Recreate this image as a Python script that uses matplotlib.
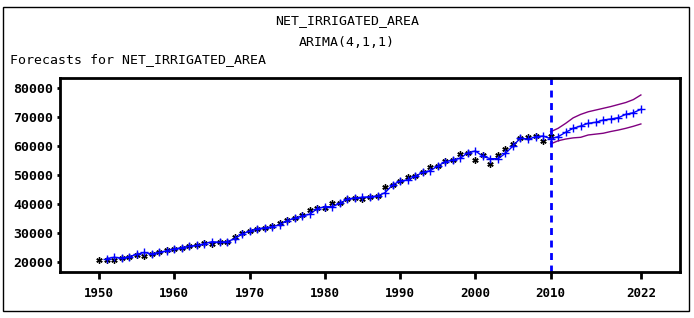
import numpy as np
import matplotlib
matplotlib.use("Agg")
from matplotlib import pyplot as plt
from matplotlib.patches import Rectangle

# actual series 1950-2010
years = np.arange(1950, 2011)
actual = [20850, 20700, 20650, 21450, 21650, 22350, 22100, 22900, 23300, 24000,
          24500, 24700, 25550, 25700, 26450, 26250, 26800, 26900, 28700, 29950,
          30800, 31450, 31750, 32450, 33400, 34500, 35100, 36200, 37950, 38450,
          38720, 40200, 40500, 41850, 42100, 41750, 42550, 42800, 45800, 46550,
          48000, 49400, 49800, 51200, 52700, 53100, 54850, 55200, 57200, 57650,
          55200, 56800, 53700, 56800, 58850, 60600, 62650, 63000, 63450, 61700,
          63450]

# one-step / forecast values 1951-2022
fyears = np.arange(1951, 2023)
forecast = [21200, 21620, 21330, 21830, 22650, 23280, 22760, 23280, 23900,
            24550, 24930, 25450, 25700, 26310, 27000, 26790, 27000, 28000, 29600,
            30690, 31480, 31750, 32200, 32800, 34240, 35100, 35860, 36500, 38400,
            39070, 39070, 40240, 41720, 42070, 42310, 42520, 42760, 43900, 46550,
            47930, 48300, 49500, 50930, 51480, 53100, 54550, 55170, 55760, 57690,
            58280, 56450, 55620, 55620, 57470, 60000, 62760, 62310, 63210, 63450,
            62520, 63210, 64720, 66100, 66900, 67830, 68170, 68970, 69310, 69760,
            70930, 71480, 72660]

# confidence limits 2010-2022
cyears = np.arange(2010, 2023)
upper = [64900, 66100, 67800, 69700, 70900, 71800, 72400, 73000, 73600, 74300,
         75000, 76000, 77600]
lower = [60700, 61800, 62400, 62800, 63000, 63800, 64100, 64400, 65000, 65500,
         66100, 66800, 67600]

xticks = [1950, 1960, 1970, 1980, 1990, 2000, 2010, 2022]
yticks = [20000, 30000, 40000, 50000, 60000, 70000, 80000]

fig = plt.figure(figsize=(6.94, 3.18), dpi=100)
fig.patches.append(Rectangle((3/694, 7/318), 686/694, 304/318, transform=fig.transFigure,
                             fill=False, edgecolor="black", linewidth=1))

mono = "DejaVu Sans Mono"
fig.text(0.5, 1 - 21/318, "NET_IRRIGATED_AREA", ha="center", va="center", family=mono, fontsize=9.5)
fig.text(0.5, 1 - 42/318, "ARIMA(4,1,1)", ha="center", va="center", family=mono, fontsize=9.5)
fig.text(10/694, 1 - 60/318, "Forecasts for NET_IRRIGATED_AREA", ha="left", va="center",
         family=mono, fontsize=9.5)

ax = fig.add_axes([60/694, 46/318, 620/694, 194/318])
ax.plot(years, actual, linestyle="none", marker=(6, 2, 0), markersize=4.5,
        markeredgewidth=1, color="black")
ax.plot(fyears, forecast, color="blue", linewidth=1, marker="+", markersize=6,
        markeredgewidth=1)
ax.plot(cyears, upper, color="#800080", linewidth=1)
ax.plot(cyears, lower, color="#800080", linewidth=1)
ax.axvline(2010, color="blue", linewidth=2, linestyle=(0, (2.5, 2)))

ax.set_xlim(1944.8, 2027.2)
ax.set_ylim(16550, 83450)
ax.set_xticks(xticks)
ax.set_yticks(yticks)
ax.set_xticklabels([str(t) for t in xticks], family=mono, fontweight="bold", fontsize=9)
ax.set_yticklabels([str(t) for t in yticks], family=mono, fontweight="bold", fontsize=9.5)
ax.tick_params(axis="x", direction="out", length=5, width=2, pad=6)
ax.tick_params(axis="y", direction="out", length=2, width=2, pad=3)
for s in ax.spines.values():
    s.set_linewidth(2)

fig.savefig("out.png", dpi=100)
